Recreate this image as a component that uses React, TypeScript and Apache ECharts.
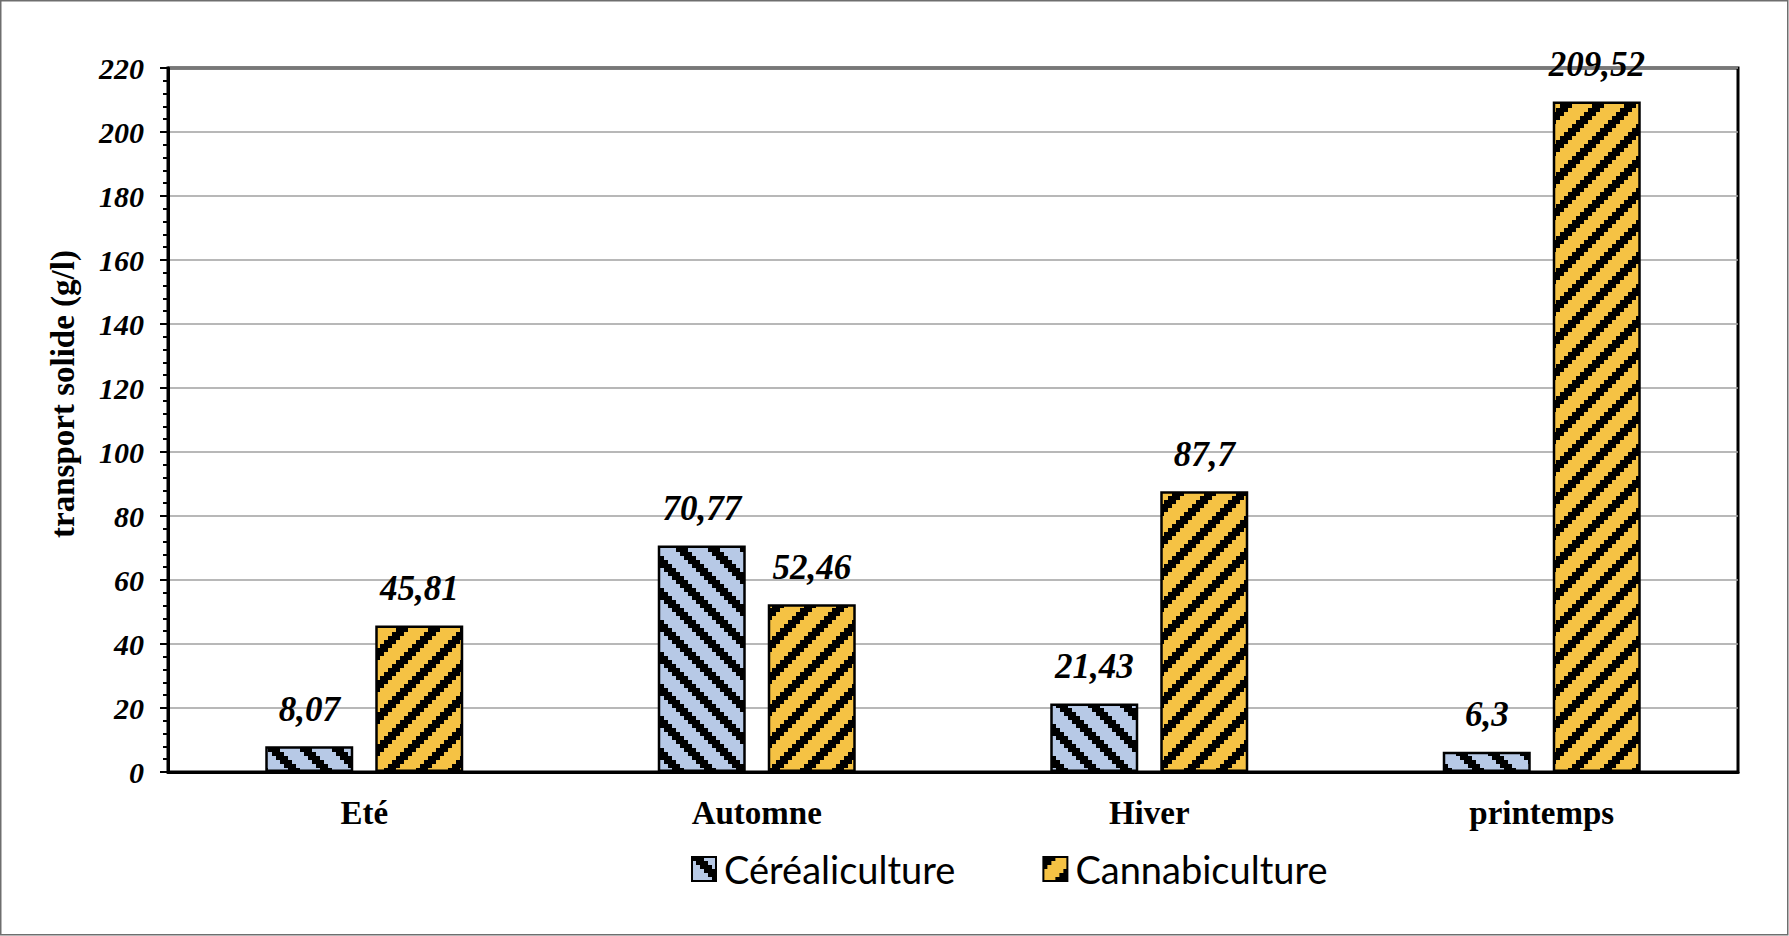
import React, { useEffect, useRef } from "react";
import * as echarts from "echarts";

const categories = ["Eté", "Automne", "Hiver", "printemps"];
const cerealiculture = [8.07, 70.77, 21.43, 6.3];
const cannabiculture = [45.81, 52.46, 87.7, 209.52];
const seriesNames = ["Céréaliculture", "Cannabiculture"];
const yAxisTitle = "transport solide (g/l)";

function makePattern(bg: string, dir: "down" | "up") {
  const size = 32;
  const n = 8;
  const c = document.createElement("canvas");
  c.width = size;
  c.height = size;
  const ctx = c.getContext("2d")!;
  ctx.fillStyle = bg;
  ctx.fillRect(0, 0, size, size);
  ctx.fillStyle = "#000";
  const pos = (k: number) => Math.round((k * size) / n);
  for (let i = 0; i < n; i++) {
    for (let j = 0; j < n; j++) {
      const v = dir === "down" ? (((i - j) % n) + n) % n : (i + j) % n;
      if (v < 3) {
        ctx.fillRect(pos(i), pos(j), pos(i + 1) - pos(i), pos(j + 1) - pos(j));
      }
    }
  }
  return { image: c, repeat: "repeat", imageWidth: size, imageHeight: size };
}

export default function App() {
  const ref = useRef<HTMLDivElement>(null);
  useEffect(() => {
    document.body.style.margin = "0";
    const chart = echarts.init(ref.current!, null, { renderer: "svg" });
    const blue = makePattern("#B7C9E6", "down");
    const yellow = makePattern("#F5C244", "up");
    const serif = "Liberation Serif";
    const labelCfg = {
      show: true,
      position: "top",
      distance: 18,
      fontFamily: serif,
      fontWeight: "bold",
      fontStyle: "italic",
      fontSize: 35,
      lineHeight: 38,
      color: "#000",
      formatter: (p: any) => String(p.value).replace(".", ","),
    };
    chart.setOption({
      animation: false,
      backgroundColor: "#fff",
      graphic: [
        {
          type: "rect",
          shape: { x: 0.75, y: 0.75, width: 1787, height: 934 },
          style: { fill: "none", stroke: "#6e6e6e", lineWidth: 1.5 },
          silent: true,
        },
        {
          type: "text",
          x: 63,
          y: 394,
          rotation: Math.PI / 2,
          silent: true,
          style: {
            text: yAxisTitle,
            fontFamily: serif,
            fontWeight: "bold",
            fontSize: 33,
            fill: "#000",
            align: "center",
            verticalAlign: "middle",
          },
        },
      ],
      grid: {
        left: 168,
        right: 51,
        top: 68,
        bottom: 164,
        show: true,
        borderColor: "#000",
        borderWidth: 3,
        backgroundColor: "transparent",
      },
      legend: {
        data: seriesNames,
        left: 691,
        top: 849,
        padding: 0,
        itemWidth: 24,
        itemHeight: 24,
        itemGap: 87,
        icon: "rect",
        textStyle: {
          fontFamily: "Lato",
          fontSize: 38,
          lineHeight: 40,
          color: "#000",
          padding: [0, 0, 0, 3],
        },
      },
      xAxis: {
        type: "category",
        data: categories,
        axisTick: { show: false },
        axisLine: { lineStyle: { color: "#000", width: 3 } },
        axisLabel: {
          margin: 24,
          fontFamily: serif,
          fontWeight: "bold",
          fontSize: 33,
          color: "#000",
        },
      },
      yAxis: {
        type: "value",
        min: 0,
        max: 220,
        interval: 20,
        axisLine: { show: true, lineStyle: { color: "#000", width: 3 } },
        axisTick: { show: true, length: 8, lineStyle: { color: "#000", width: 2 } },
        minorTick: {
          show: true,
          splitNumber: 5,
          length: 5,
          lineStyle: { color: "#000", width: 2 },
        },
        splitLine: { lineStyle: { color: "#a0a0a0", width: 1.5 } },
        axisLabel: {
          margin: 24,
          fontFamily: serif,
          fontWeight: "bold",
          fontStyle: "italic",
          fontSize: 30,
          color: "#000",
        },
      },
      series: [
        {
          name: seriesNames[0],
          type: "bar",
          data: cerealiculture,
          barWidth: 88,
          barGap: "25%",
          itemStyle: { color: blue, borderColor: "#000", borderWidth: 2.5 },
          label: labelCfg,
        },
        {
          name: seriesNames[1],
          type: "bar",
          data: cannabiculture,
          barWidth: 88,
          itemStyle: { color: yellow, borderColor: "#000", borderWidth: 2.5 },
          label: labelCfg,
        },
      ],
    });
    return () => chart.dispose();
  }, []);
  return <div ref={ref} style={{ width: 1789, height: 936 }} />;
}
